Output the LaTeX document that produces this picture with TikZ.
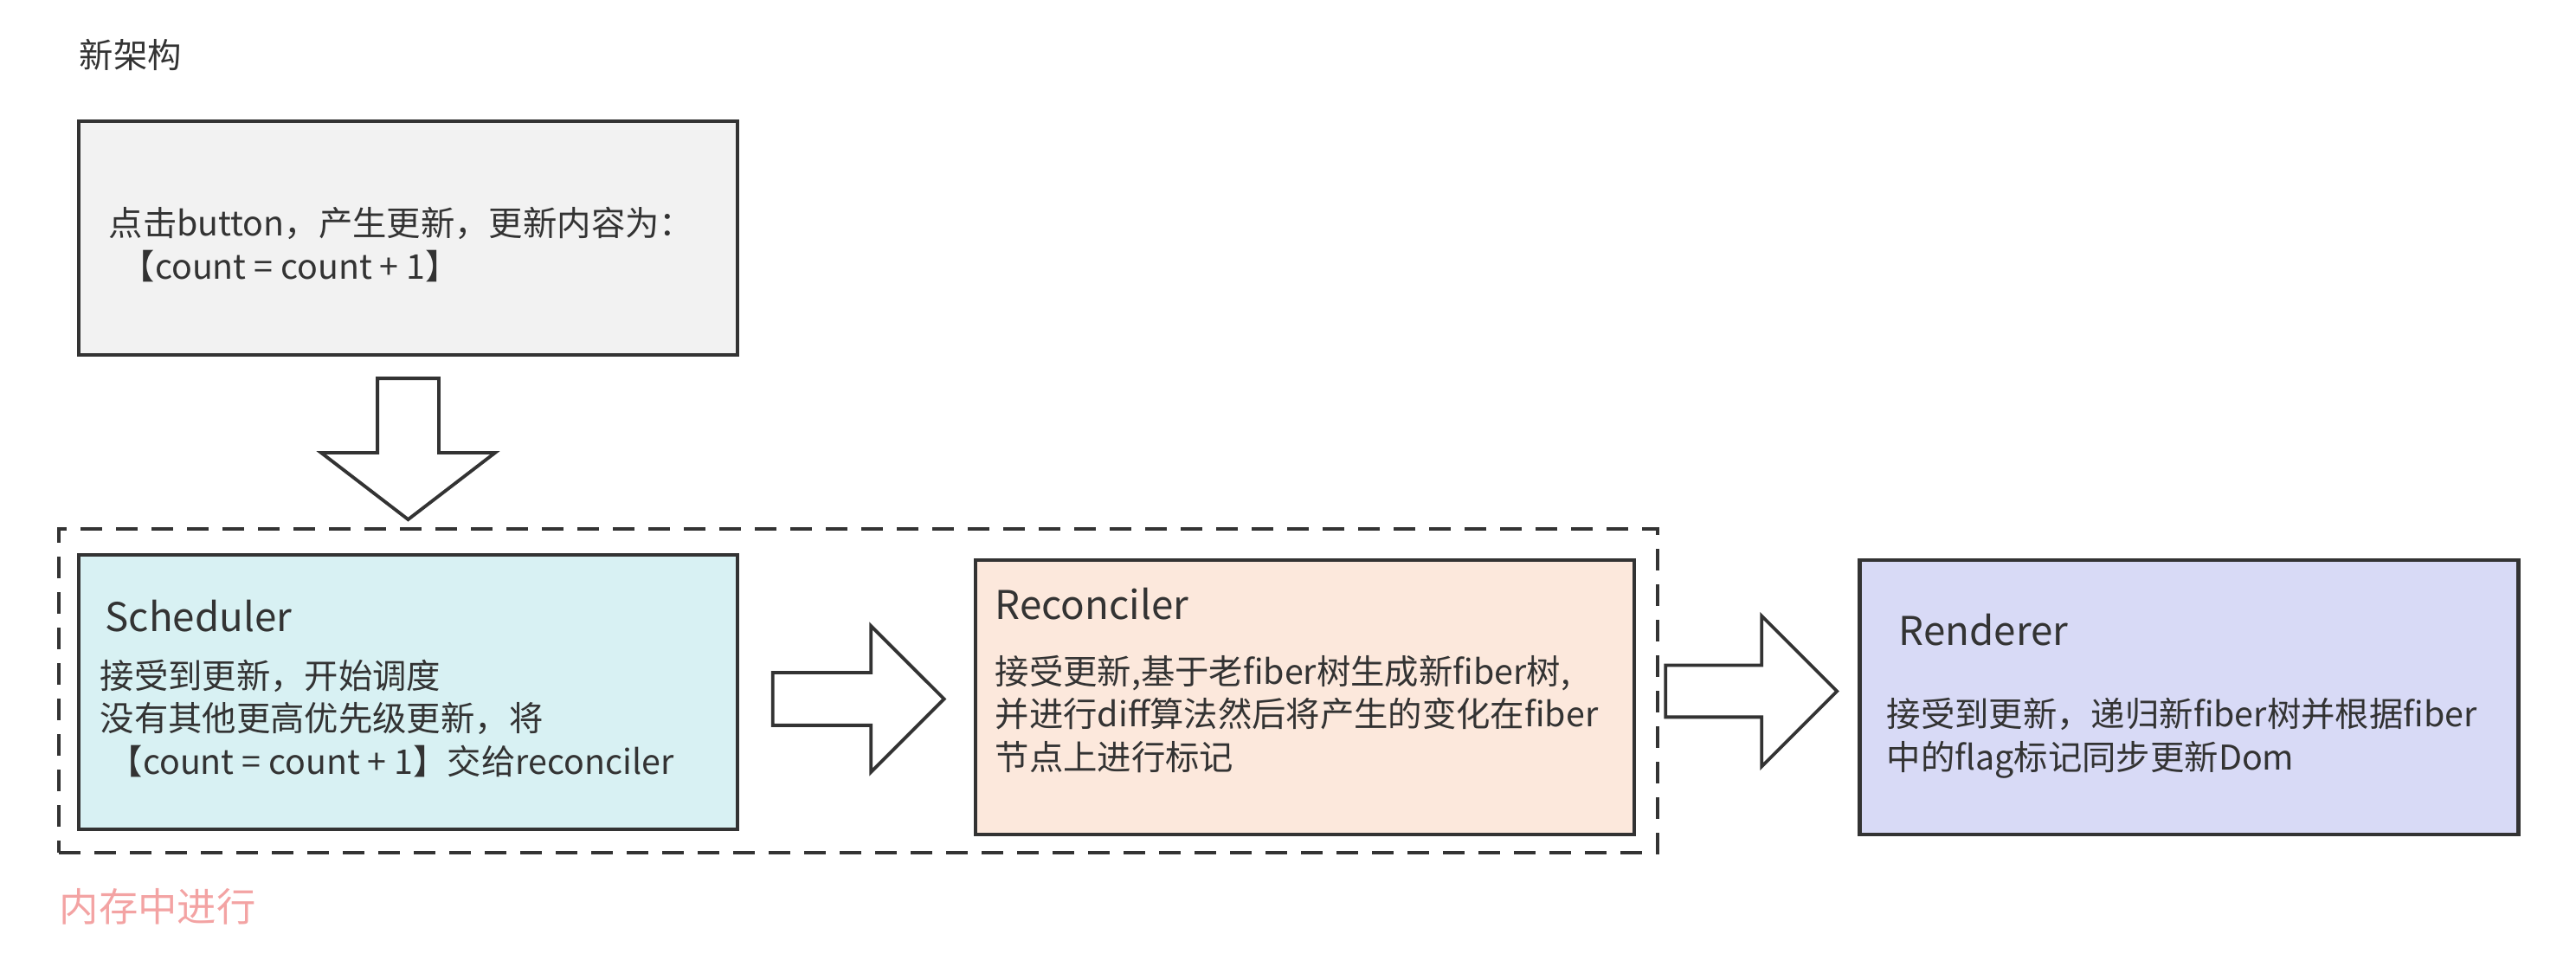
\documentclass[tikz,border=0pt]{standalone}
\usepackage{fontspec}
\setmainfont{Noto Sans CJK SC}
\usetikzlibrary{shapes.arrows,positioning,calc}
\definecolor{linegray}{HTML}{333333}
\definecolor{topfill}{HTML}{F2F2F2}
\definecolor{schedfill}{HTML}{D8F1F3}
\definecolor{reconfill}{HTML}{FCE8DC}
\definecolor{renderfill}{HTML}{D8DAF6}
\definecolor{memred}{HTML}{F3A3A3}

\begin{document}
\begin{tikzpicture}[
    box/.style={draw=linegray, line width=1.2pt, rectangle, minimum width=7.61cm, minimum height=3.17cm},
    boxtitle/.style={anchor=west, inner sep=0pt, text=linegray, font=\fontsize{13pt}{16pt}\selectfont},
    boxtext/.style={anchor=west, inner sep=0pt, align=left, text=linegray, font=\fontsize{11.2pt}{14.2pt}\selectfont},
    fatarrow/.style={single arrow, draw=linegray, line width=1.1pt, fill=white, inner xsep=0pt}
]
    \useasboundingbox (0,0) rectangle (29.76,-11.24);

    \node[boxtext] (title) at (0.91,-0.63) {新架构};

    \node[box, fill=topfill, minimum height=2.70cm] (click) at (4.715,-2.75) {};
    \node[boxtext] (clicktext) at (1.25,-2.825) {点击button，产生更新，更新内容为：\\\hspace*{0.14cm}【count = count + 1】};

    \node[draw=linegray, line width=1pt, dash pattern=on 0.25cm off 0.16cm, minimum width=18.47cm, minimum height=3.74cm] (mem) at (9.915,-7.98) {};
    \node[boxtext, text=memred, font=\fontsize{12.9pt}{15pt}\selectfont] (memlabel) at (0.68,-10.47) {内存中进行};

    \node[box, fill=schedfill] (sched) at (4.715,-7.995) {};
    \node[boxtitle] (schedtitle) at (1.21,-7.12) {Scheduler};
    \node[boxtext] (schedtext) at (1.15,-8.30) {接受到更新，开始调度\\没有其他更高优先级更新，将\\\hspace*{0.1cm}【count = count + 1】交给reconciler};

    \node[box, fill=reconfill] (recon) at (15.075,-8.055) {};
    \node[boxtitle] (recontitle) at (11.49,-6.98) {Reconciler};
    \node[boxtext] (recontext) at (11.49,-8.25) {接受更新,基于老fiber树生成新fiber树,\\并进行diff算法然后将产生的变化在fiber\\节点上进行标记};

    \node[box, fill=renderfill] (render) at (25.29,-8.055) {};
    \node[boxtitle] (rendertitle) at (21.93,-7.28) {Renderer};
    \node[boxtext] (rendertext) at (21.79,-8.525) {接受到更新，递归新fiber树并根据fiber\\中的flag标记同步更新Dom};

    \node[fatarrow, rotate=-90, inner ysep=0.335cm, minimum height=1.63cm, single arrow head extend=0.65cm, single arrow tip angle=105] (down) at (4.715,-5.05) {};
    \node[fatarrow, inner ysep=0.285cm, minimum height=1.98cm, single arrow head extend=0.54cm] (step1) at ($(sched.east)!0.5!(recon.west)+(-0.13,-0.05)$) {};
    \node[fatarrow, inner ysep=0.28cm, minimum height=1.98cm, single arrow head extend=0.57cm] (step2) at ($(recon.east)!0.5!(render.west)+(-0.10,0.07)$) {};
\end{tikzpicture}
\end{document}
